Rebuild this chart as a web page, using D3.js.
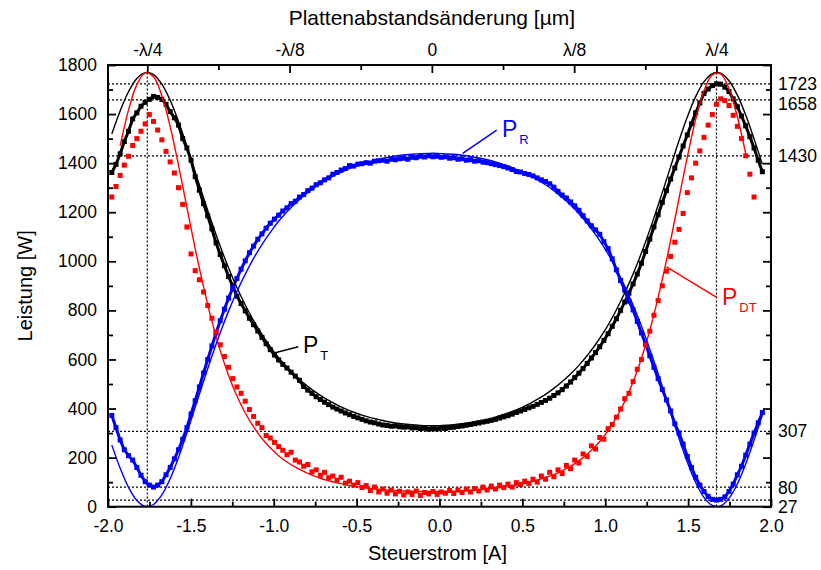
<!DOCTYPE html>
<html>
<head>
<meta charset="utf-8">
<script src="https://cdn.jsdelivr.net/npm/d3@7"></script>
<style>
  body { margin: 0; background: #fff; }
  svg { display: block; font-family: "Liberation Sans", Arial, sans-serif; }
</style>
</head>
<body>
<div id="chart"></div>
<script>
// Messpunkte: Steuerstrom-Raster (A)
const dataStart = -1.977, dataStep = 0.02516;
const fitStart = -1.977, fitStep = 0.05032;

// P_T (schwarz), gemessen
const dataPT = [
  1362,1395,1438,1488,1530,1580,1605,1632,1648,1660,
  1672,1668,1660,1640,1610,1585,1555,1500,1462,1412,
  1345,1290,1235,1185,1132,1075,1028,982,938,898,
  858,828,798,768,742,716,690,664,640,618,
  598,580,565,548,532,515,490,475,462,448,
  437,426,416,406,398,390,382,375,368,362,
  356,350,345,342,337,333,331,328,329,326,
  324,325,321,322,318,320,316,318,317,320,
  319,323,324,327,329,332,335,338,341,345,
  348,352,356,361,366,371,377,384,390,396,
  403,409,417,425,433,442,453,464,477,492,
  508,526,544,563,584,606,628,652,678,705,
  735,766,800,834,870,908,948,992,1040,1090,
  1140,1190,1240,1288,1335,1380,1425,1470,1515,1560,
  1605,1645,1684,1702,1716,1723,1722,1710,1692,1662,
  1630,1592,1552,1508,1462,1412,1365
];
// P_DT (rot), gemessen
const dataPDT = [
  1262,1305,1350,1392,1428,1472,1500,1530,1560,1598,
  1570,1535,1495,1448,1405,1360,1300,1232,1140,1030,
  962,925,875,820,768,712,660,612,568,522,
  488,462,430,396,368,340,322,290,280,262,
  245,230,212,222,190,182,165,172,142,150,
  128,140,118,125,108,120,96,104,88,98,
  78,86,66,80,60,72,55,68,52,63,
  48,60,50,64,46,58,52,62,50,60,
  55,66,54,68,58,72,60,74,64,80,
  68,84,72,88,78,92,80,98,90,104,
  95,112,100,125,112,140,122,150,135,168,
  155,190,178,215,205,248,235,282,275,318,
  335,365,398,440,462,510,560,600,660,715,
  780,840,900,960,1020,1078,1130,1195,1280,1340,
  1400,1450,1505,1555,1598,1640,1662,1655,1635,1595,
  1550,1500,1430,1355,1262,null,null
];
// P_R (blau), gemessen
const dataPR = [
  372,322,272,232,208,190,160,128,102,88,
  80,88,102,130,160,195,232,275,322,378,
  432,488,545,600,655,708,758,805,850,892,
  930,968,1002,1035,1062,1090,1112,1135,1155,1172,
  1188,1205,1218,1235,1245,1262,1272,1288,1298,1312,
  1320,1332,1340,1355,1362,1372,1378,1390,1388,1396,
  1398,1402,1400,1408,1410,1412,1408,1416,1414,1418,
  1420,1416,1424,1422,1428,1425,1430,1426,1428,1424,
  1426,1420,1422,1416,1418,1412,1414,1408,1410,1404,
  1402,1398,1394,1390,1386,1380,1374,1366,1364,1358,
  1354,1348,1340,1332,1325,1316,1302,1285,1270,1258,
  1242,1226,1208,1186,1165,1145,1128,1110,1080,1052,
  1010,965,922,882,838,802,755,708,662,615,
  568,522,478,435,390,338,300,255,205,160,
  120,88,62,42,30,27,30,40,62,92,
  130,165,210,255,300,342,384
];

// Fitkurven
const fitPT = [
  1519,1613,1691,1745,1769,1761,1722,1656,1569,1470,1364,1259,1157,1061,973,893,822,758,702,652,
  607,568,534,504,477,454,433,415,399,385,373,363,355,347,341,337,334,331,330,
  330,332,334,338,343,349,356,365,376,388,402,418,437,458,482,510,541,576,616,661,
  712,770,836,909,990,1080,1177,1280,1386,1491,1588,1671,1732,1765,1767,1736,1677,1596,1499,1395
];
const fitPDT = [
  null,1470,1616,1720,1768,1752,1675,1549,1391,1221,1051,896,756,636,535,451,382,325,278,240,
  208,182,161,144,129,116,106,97,90,84,79,74,71,68,66,64,63,62,62,
  62,62,63,65,66,69,72,75,80,85,91,99,108,119,131,147,165,187,214,247,
  286,335,395,467,554,659,783,926,1085,1256,1425,1578,1695,1760,1764,1703,1589,1439,null,null
];
const fitPR = [
  251,157,79,25,1,9,48,114,201,300,406,511,613,709,797,877,948,1012,1068,1118,
  1163,1202,1236,1266,1293,1316,1337,1355,1371,1385,1397,1407,1415,1423,1429,1433,1436,1439,1440,
  1440,1438,1436,1432,1427,1421,1414,1405,1394,1382,1368,1352,1333,1312,1288,1260,1229,1194,1154,1109,
  1058,1000,934,861,780,690,593,490,384,279,182,99,38,5,3,34,93,174,271,375
];

// Achsen
const xTicks = [-2, -1.5, -1, -0.5, 0, 0.5, 1, 1.5, 2];
const xMinor = [-1.75, -1.25, -0.75, -0.25, 0.25, 0.75, 1.25, 1.75];
const yTicks = [0, 200, 400, 600, 800, 1000, 1200, 1400, 1600, 1800];
const yMinor = [100, 300, 500, 700, 900, 1100, 1300, 1500, 1700];
const topTicks = [-0.25, -0.125, 0, 0.125, 0.25];
const topLabels = ["-λ/4", "-λ/8", "0", "λ/8", "λ/4"];
const topMinor = [-0.1875, -0.0625, 0.0625, 0.1875];
const refValues = [1723, 1658, 1430, 307, 80, 27];
const peakCurrents = [-1.763, 1.671];

(function () {
    const width = 821, height = 570;
    const svg = d3.select("#chart").append("svg")
        .attr("width", width)
        .attr("height", height);

    const x = d3.scaleLinear().domain([-2, 2]).range([108, 771]);
    const y = d3.scaleLinear().domain([0, 1800]).range([506.7, 65]);
    const xTop = d3.scaleLinear().domain([-0.25, 0.25])
        .range([x(peakCurrents[0]), x(peakCurrents[1])]);

    const x0 = x.range()[0], x1 = x.range()[1];
    const yB = y.range()[0], yT = y.range()[1];

    // Punkte mit x-Werten verbinden
    const toPoints = (vals, start, step) =>
        vals.map((v, i) => ({ a: start + i * step, w: v })).filter(d => d.w !== null);

    // Hilfslinien (gepunktet)
    svg.append("g").selectAll("line")
        .data(refValues)
        .join("line")
        .attr("x1", x0).attr("x2", x1)
        .attr("y1", d => y(d)).attr("y2", d => y(d))
        .attr("stroke", "#000")
        .attr("stroke-width", 1.2)
        .attr("stroke-dasharray", "2,2");

    svg.append("g").selectAll("line")
        .data(peakCurrents)
        .join("line")
        .attr("x1", d => x(d)).attr("x2", d => x(d))
        .attr("y1", y(d3.max(fitPT))).attr("y2", yB)
        .attr("stroke", "#000")
        .attr("stroke-width", 1.2)
        .attr("stroke-dasharray", "2,2");

    // Messdaten
    const series = [
        { vals: dataPT, color: "#000000", join: true },
        { vals: dataPR, color: "#0000ff", join: true },
        { vals: dataPDT, color: "#ff0000", join: false }
    ];
    const sq = 5;
    const line = d3.line().x(d => x(d.a)).y(d => y(d.w));

    series.forEach(s => {
        const pts = toPoints(s.vals, dataStart, dataStep);
        if (s.join) {
            svg.append("path")
                .attr("d", line(pts))
                .attr("fill", "none")
                .attr("stroke", s.color)
                .attr("stroke-width", 3);
        }
        svg.append("g").selectAll("rect")
            .data(pts)
            .join("rect")
            .attr("x", d => x(d.a) - sq / 2)
            .attr("y", d => y(d.w) - sq / 2)
            .attr("width", sq)
            .attr("height", sq)
            .attr("fill", s.color);
    });

    // Fits
    const fitLine = d3.line().x(d => x(d.a)).y(d => y(d.w)).curve(d3.curveCatmullRom);
    [[fitPT, "#000000"], [fitPDT, "#ff0000"], [fitPR, "#0000ff"]].forEach(([vals, color]) => {
        svg.append("path")
            .attr("d", fitLine(toPoints(vals, fitStart, fitStep)))
            .attr("fill", "none")
            .attr("stroke", color)
            .attr("stroke-width", 1.4);
    });

    // Achsen
    function styleAxis(g) {
        g.select(".domain").remove();
        g.selectAll(".tick line").attr("stroke", "#000").attr("stroke-width", 1.8);
        g.selectAll("text").attr("fill", "#000")
            .attr("font-family", "'Liberation Sans', Arial, sans-serif")
            .attr("font-size", 17.5);
    }

    svg.append("g").attr("transform", `translate(0,${yB})`)
        .call(d3.axisBottom(x).tickValues(xTicks).tickFormat(d => d.toFixed(1)).tickSize(-8).tickPadding(13))
        .call(styleAxis);
    svg.append("g").attr("transform", `translate(0,${yB})`)
        .call(d3.axisBottom(x).tickValues(xMinor).tickFormat("").tickSize(-5))
        .call(styleAxis);

    svg.append("g").attr("transform", `translate(${x0},0)`)
        .call(d3.axisLeft(y).tickValues(yTicks).tickFormat(d => String(d)).tickSize(-8).tickPadding(11))
        .call(styleAxis);
    svg.append("g").attr("transform", `translate(${x0},0)`)
        .call(d3.axisLeft(y).tickValues(yMinor).tickFormat("").tickSize(-5))
        .call(styleAxis);

    svg.append("g").attr("transform", `translate(${x1},0)`)
        .call(d3.axisRight(y).tickValues(yTicks).tickFormat("").tickSize(-8))
        .call(styleAxis);
    svg.append("g").attr("transform", `translate(${x1},0)`)
        .call(d3.axisRight(y).tickValues(yMinor).tickFormat("").tickSize(-5))
        .call(styleAxis);

    svg.append("g").attr("transform", `translate(0,${yT})`)
        .call(d3.axisTop(xTop).tickValues(topTicks).tickFormat((d, i) => topLabels[i]).tickSize(-8).tickPadding(9))
        .call(styleAxis);
    svg.append("g").attr("transform", `translate(0,${yT})`)
        .call(d3.axisTop(xTop).tickValues(topMinor).tickFormat("").tickSize(-5))
        .call(styleAxis);

    // Rahmen
    svg.append("rect")
        .attr("x", x0).attr("y", yT)
        .attr("width", x1 - x0).attr("height", yB - yT)
        .attr("fill", "none")
        .attr("stroke", "#000")
        .attr("stroke-width", 2);

    // Werte rechts
    const labelShift = { 1658: 4, 27: 7, 80: 1 };
    svg.append("g").selectAll("text")
        .data(refValues)
        .join("text")
        .attr("x", x1 + 7)
        .attr("y", d => y(d) + (labelShift[d] || 0))
        .attr("dy", "0.35em")
        .attr("font-size", 17.5)
        .text(d => d);

    // Achsentitel
    svg.append("text")
        .attr("x", x(0) - 2).attr("y", 560)
        .attr("text-anchor", "middle")
        .attr("font-size", 20)
        .text("Steuerstrom [A]");
    svg.append("text")
        .attr("x", xTop(0)).attr("y", 25)
        .attr("text-anchor", "middle")
        .attr("font-size", 21)
        .text("Plattenabstandsänderung [µm]");
    svg.append("text")
        .attr("transform", `translate(32,${y(900)}) rotate(-90)`)
        .attr("text-anchor", "middle")
        .attr("font-size", 20)
        .text("Leistung [W]");

    // Beschriftungen der Kurven
    const notes = [
        { main: "R", color: "#0000ff", at: [0.377, 1507], from: [0.345, 1535], to: [0.140, 1440] },
        { main: "T", color: "#000000", at: [-0.824, 626], from: [-0.852, 652], to: [-1.003, 625] },
        { main: "DT", color: "#ff0000", at: [1.704, 822], from: [1.675, 852], to: [1.369, 977] }
    ];
    notes.forEach(n => {
        svg.append("line")
            .attr("x1", x(n.from[0])).attr("y1", y(n.from[1]))
            .attr("x2", x(n.to[0])).attr("y2", y(n.to[1]))
            .attr("stroke", n.color)
            .attr("stroke-width", 1.5);
        const t = svg.append("text")
            .attr("x", x(n.at[0])).attr("y", y(n.at[1]))
            .attr("fill", n.color)
            .attr("font-size", 23);
        t.append("tspan").text("P");
        t.append("tspan").attr("dx", 2).attr("dy", 7).attr("font-size", 13).text(n.main);
    });
})();
</script>
</body>
</html>
